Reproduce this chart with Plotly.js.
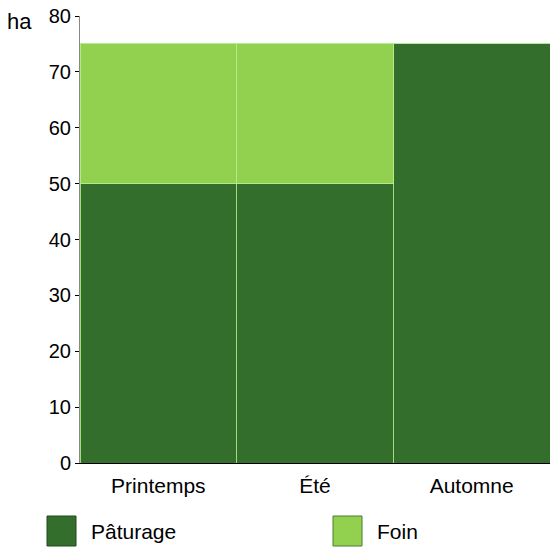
<!DOCTYPE html>
<html>
<head>
<meta charset="utf-8">
<script src="https://cdn.plot.ly/plotly-3.0.1.min.js"></script>
<style>html,body{margin:0;padding:0;background:#fff;}#chart{width:550px;height:548px;}</style>
</head>
<body>
<div id="chart"></div>
<script>
var categories = ["Printemps", "Été", "Automne"];
var seriesNames = ["Pâturage", "Foin"];
var paturage = [50, 50, 75];
var foin = [25, 25, 0];
var yTicks = [0, 10, 20, 30, 40, 50, 60, 70, 80];
var yUnit = "ha";

var colors = ["#346e2c", "#92d050"];
var W = 550, H = 548, L = 80, R = 0, T = 16, B = 85;
var pw = W - L - R, ph = H - T - B;
function px(x) { return (x - L) / pw; }
function py(y) { return (H - B - y) / ph; }

var font = "Liberation Sans, Arial, sans-serif";
var traces = [
  {type: "bar", x: categories, y: paturage, name: seriesNames[0], marker: {color: colors[0], line: {color: "#a3dc78", width: 1}}, showlegend: false, hoverinfo: "x+y"},
  {type: "bar", x: categories, y: foin, name: seriesNames[1], marker: {color: colors[1], line: {color: "#b5ea8a", width: 1}}, showlegend: false, hoverinfo: "x+y"}
];

var legendPos = [47, 333];
var shapes = [], annotations = [];
seriesNames.forEach(function (n, i) {
  var x0 = legendPos[i];
  shapes.push({type: "rect", xref: "paper", yref: "paper", x0: px(x0), x1: px(x0 + 29), y0: py(546), y1: py(516), fillcolor: colors[i], line: {color: i === 0 ? "#1f4a1a" : "#4f7a2f", width: 1}});
  annotations.push({xref: "paper", yref: "paper", x: px(x0 + 42), y: py(531), xanchor: "left", yanchor: "middle", text: n, showarrow: false, font: {family: font, size: 21, color: "#000"}});
});
annotations.push({xref: "paper", yref: "paper", x: px(5), y: py(22), xanchor: "left", yanchor: "middle", text: yUnit, showarrow: false, font: {family: font, size: 22, color: "#000"}});

var layout = {
  width: W, height: H,
  margin: {l: L, r: R, t: T, b: B, pad: 0},
  barmode: "stack", bargap: 0,
  paper_bgcolor: "#fff", plot_bgcolor: "#fff",
  xaxis: {showline: true, linecolor: "#000", linewidth: 1, ticks: "", tickfont: {family: font, size: 21, color: "#000"}, showgrid: false, zeroline: false, ticklabelstandoff: 4},
  yaxis: {range: [0, 80], tickvals: yTicks, ticktext: yTicks.map(String), showline: true, linecolor: "#888", linewidth: 1, ticks: "outside", ticklen: 4, tickcolor: "#000", tickfont: {family: font, size: 20, color: "#000"}, showgrid: false, zeroline: false},
  shapes: shapes, annotations: annotations,
  font: {family: font}
};
Plotly.newPlot("chart", traces, layout, {displayModeBar: false, staticPlot: true});
</script>
</body>
</html>
